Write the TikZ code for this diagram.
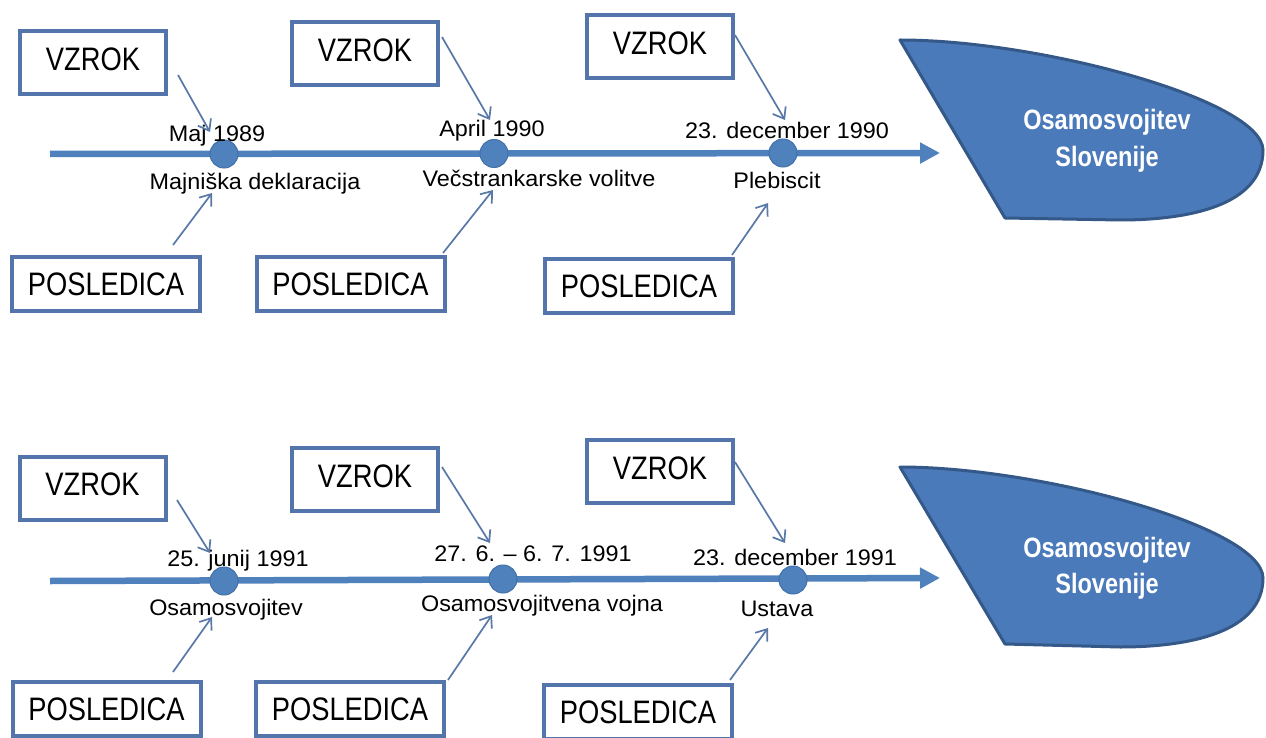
\documentclass[tikz,border=0pt]{standalone}
\usepackage{fontspec}
\setmainfont{Liberation Sans}
\newfontfamily\boxfont[FakeStretch=0.84]{Liberation Sans}
\newfontfamily\lblfont[FakeStretch=1.04]{Liberation Sans}
\newfontfamily\headfont[FakeStretch=0.84]{Liberation Sans}
\usetikzlibrary{arrows.meta}
\definecolor{spinec}{RGB}{79,129,189}
\definecolor{spinedark}{RGB}{66,112,168}
\definecolor{boxc}{RGB}{84,116,172}
\definecolor{arrc}{RGB}{88,120,168}
\definecolor{headfill}{RGB}{74,122,186}
\definecolor{headdraw}{RGB}{52,88,136}
\begin{document}
\begin{tikzpicture}[x=1pt,y=-1pt,
  vbox/.style={draw=boxc, line width=4pt, fill=white, inner sep=0pt,
    minimum width=146pt, minimum height=63pt,
    font=\boxfont\fontsize{32.5}{36}\selectfont, text height=23.3pt, text depth=8pt},
  pbox/.style={draw=boxc, line width=4pt, fill=white, inner sep=0pt,
    minimum width=188pt, minimum height=54pt,
    font=\boxfont\fontsize{32.5}{36}\selectfont, text height=23.3pt, text depth=0pt},
  lbl/.style={inner sep=0pt, font=\lblfont\fontsize{22.5}{27}\selectfont,
    text height=16.1pt, text depth=0pt},
  evt/.style={circle, fill=spinec, draw=spinedark, line width=1pt,
    minimum size=28pt, inner sep=0pt},
  conn/.style={draw=arrc, line width=1.7pt, -{Straight Barb[length=10pt,width=15pt]}},
  spineline/.style={draw=spinec, line width=6.5pt, -{Triangle[length=20pt,width=20pt]}},
  headshape/.style={fill=headfill, draw=headdraw, line width=3pt, line join=round},
  headtxt/.style={inner sep=0pt, text=white, font=\headfont\bfseries\fontsize{28}{34}\selectfont,
    text height=20pt, text depth=0pt}
]
\useasboundingbox (0,0) rectangle (1266,738);
\fill[white] (0,0) rectangle (1266,738);

% ================= TOP =================
\coordinate (ts) at (50,154);
\coordinate (te) at (940,153);
\draw[spineline] (ts) -- (te);
\node[evt] (tc1) at (224,154) {};
\node[evt] (tc2) at (494,153.5) {};
\node[evt] (tc3) at (783,153) {};

\node[lbl] (td1) at (217,133) {Maj 1989};
\node[lbl] (tn1) at (255,181) {Majniška deklaracija};
\node[lbl] (td2) at (492,128) {April 1990};
\node[lbl] (tn2) at (539,178) {Večstrankarske volitve};
\node[lbl] (td3) at (787,130) {23. december 1990};
\node[lbl] (tn3) at (777,180) {Plebiscit};

\node[vbox] (tv1) at (93,62.5) {VZROK};
\node[vbox] (tv2) at (365,54) {VZROK};
\node[vbox] (tv3) at (660,46.5) {VZROK};
\node[pbox] (tp1) at (106,283.5) {POSLEDICA};
\node[pbox] (tp2) at (350.5,283.5) {POSLEDICA};
\node[pbox] (tp3) at (639,286) {POSLEDICA};

\coordinate (ta1s) at (178,75);  \coordinate (ta1e) at (210,132);
\coordinate (tb1s) at (173,245); \coordinate (tb1e) at (212,193);
\coordinate (ta2s) at (442,37);  \coordinate (ta2e) at (490,120);
\coordinate (tb2s) at (443,253); \coordinate (tb2e) at (493,190);
\coordinate (ta3s) at (735,35);  \coordinate (ta3e) at (785,120);
\coordinate (tb3s) at (732,255); \coordinate (tb3e) at (768,203);
\draw[conn] (ta1s) -- (ta1e);
\draw[conn] (tb1s) -- (tb1e);
\draw[conn] (ta2s) -- (ta2e);
\draw[conn] (tb2s) -- (tb2e);
\draw[conn] (ta3s) -- (ta3e);
\draw[conn] (tb3s) -- (tb3e);

\draw[headshape] (900,40) .. controls (1040,40) and (1262,100) .. (1263,150)
  .. controls (1263,205) and (1190,220) .. (1120,220) -- (1005,218) -- cycle;
\node[headtxt] (th1) at (1107,120) {Osamosvojitev};
\node[headtxt] (th2) at (1107,157) {Slovenije};

% ================= BOTTOM =================
\coordinate (bs) at (50,581);
\coordinate (be) at (940,578);
\draw[spineline] (bs) -- (be);
\node[evt] (bc1) at (224,581) {};
\node[evt] (bc2) at (503,579) {};
\node[evt] (bc3) at (793,580) {};

\node[lbl] (bd1) at (238,558) {25. junij 1991};
\node[lbl] (bn1) at (226,607) {Osamosvojitev};
\node[lbl] (bd2) at (533,553) {27. 6. – 6. 7. 1991};
\node[lbl] (bn2) at (542,603) {Osamosvojitvena vojna};
\node[lbl] (bd3) at (795,557) {23. december 1991};
\node[lbl] (bn3) at (777,608) {Ustava};

\node[vbox] (bv1) at (92.5,488) {VZROK};
\node[vbox] (bv2) at (365,479.5) {VZROK};
\node[vbox] (bv3) at (660,471.5) {VZROK};
\node[pbox] (bp1) at (106.5,708.5) {POSLEDICA};
\node[pbox] (bp2) at (350,708.5) {POSLEDICA};
\node[pbox] (bp3) at (638,712) {POSLEDICA};

\coordinate (ba1s) at (177,500); \coordinate (ba1e) at (210,553);
\coordinate (bb1s) at (173,672); \coordinate (bb1e) at (212,617);
\coordinate (ba2s) at (442,467); \coordinate (ba2e) at (490,543);
\coordinate (bb2s) at (448,680); \coordinate (bb2e) at (492,615);
\coordinate (ba3s) at (735,462); \coordinate (ba3e) at (785,543);
\coordinate (bb3s) at (730,680); \coordinate (bb3e) at (768,628);
\draw[conn] (ba1s) -- (ba1e);
\draw[conn] (bb1s) -- (bb1e);
\draw[conn] (ba2s) -- (ba2e);
\draw[conn] (bb2s) -- (bb2e);
\draw[conn] (ba3s) -- (ba3e);
\draw[conn] (bb3s) -- (bb3e);

\draw[headshape] (900,467) .. controls (1040,467) and (1262,527) .. (1263,578)
  .. controls (1263,632) and (1190,647) .. (1120,647) -- (1005,644) -- cycle;
\node[headtxt] (bh1) at (1107,547) {Osamosvojitev};
\node[headtxt] (bh2) at (1107,583) {Slovenije};
\end{tikzpicture}
\end{document}
